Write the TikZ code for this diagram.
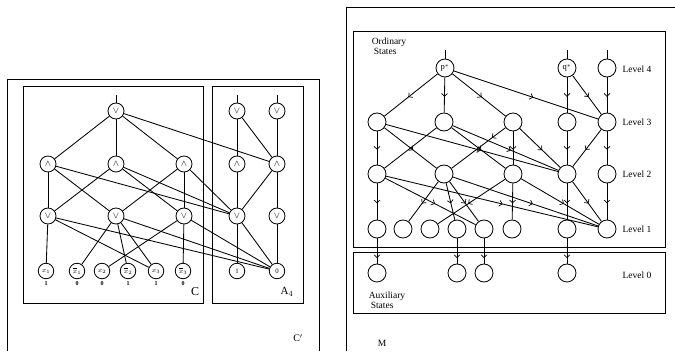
\documentclass[tikz,border=0pt]{standalone}
\usepackage{fontspec}
\setmainfont{Liberation Serif}
\usetikzlibrary{arrows.meta,decorations.markings}
\begin{document}
\begin{tikzpicture}[x=1pt,y=-1pt,
  box/.style={line width=1pt},
  ed/.style={line width=0.85pt},
  g/.style={circle,draw,line width=0.85pt,minimum size=16pt,inner sep=0pt,font=\fontsize{9.5}{9.5}\selectfont},
  leaf/.style={g,minimum size=15.5pt,font=\fontsize{6.8}{7}\selectfont},
  val/.style={inner sep=0pt,font=\fontsize{6}{6}\bfseries\selectfont},
  st/.style={circle,draw,line width=0.85pt,minimum size=18pt,inner sep=0pt,font=\fontsize{8.5}{8.5}\selectfont},
  lbl/.style={inner sep=0pt,font=\fontsize{9.5}{10.5}\selectfont},
  am/.style={ed,postaction={decorate},decoration={markings,mark=at position #1 with {\arrow{Straight Barb[length=2.8pt,width=6pt,line width=0.7pt]}}}},
  am/.default=0.55]
\useasboundingbox (0,0) rectangle (675,351);

% ---------- left figure ----------
\draw[box] (7,351) -- (7,79) -- (319,79) -- (319,351);
\draw[box] (23,86) rectangle (203,303);
\draw[box] (212,86) rectangle (303,303);
\node[inner sep=0pt,font=\fontsize{12}{12}\selectfont] (lC) at (195,292) {C};
\node[inner sep=0pt,font=\fontsize{11}{11}\selectfont] (lA) at (287,292) {A$_4$};
\node[inner sep=0pt,font=\fontsize{10}{10}\selectfont] (lCp) at (298,338) {C$'$};

\node[g] (t) at (116,111) {$\vee$};
\node[g] (a1) at (48,164) {$\wedge$};
\node[g] (a2) at (116,164) {$\wedge$};
\node[g] (a3) at (184,164) {$\wedge$};
\node[g] (o1) at (48,216) {$\vee$};
\node[g] (o2) at (116,216) {$\vee$};
\node[g] (o3) at (184,216) {$\vee$};
\node[leaf] (x1) at (46,271) {$x_1$};
\node[leaf] (nx1) at (77,271) {$\overline{x}_1$};
\node[leaf] (x2) at (102,271) {$x_2$};
\node[leaf] (nx2) at (128,271) {$\overline{x}_2$};
\node[leaf] (x3) at (156,271) {$x_3$};
\node[leaf] (nx3) at (183,271) {$\overline{x}_3$};
\node[val] (v1) at (46,284) {1};
\node[val] (v2) at (77,284) {0};
\node[val] (v3) at (102,284) {0};
\node[val] (v4) at (128,284) {1};
\node[val] (v5) at (156,284) {1};
\node[val] (v6) at (183,284) {0};

\node[g] (bt1) at (237,111) {$\vee$};
\node[g] (bt2) at (277,111) {$\vee$};
\node[g] (ba1) at (237,164) {$\wedge$};
\node[g] (ba2) at (277,164) {$\wedge$};
\node[g] (bo1) at (237,216) {$\vee$};
\node[g] (bo2) at (277,216) {$\vee$};
\node[leaf] (one) at (237,271) {1};
\node[leaf] (zero) at (277,271) {0};

\coordinate (ti) at (116,95);
\coordinate (bti1) at (237,95);
\coordinate (bti2) at (277,95);

\draw[ed] (ti) -- (t);
\draw[ed] (bti1) -- (bt1);
\draw[ed] (bti2) -- (bt2);
\foreach \a/\b in {t/a1,t/a2,t/a3,t/ba2,
  a1/o1,a1/o2,a1/bo1,a2/o1,a2/o3,a2/bo1,a3/o2,a3/o3,a3/bo1,
  o1/x1,o1/x3,o1/zero,o2/nx1,o2/nx2,o2/x3,o2/zero,o3/nx3,o3/x2,o3/zero,
  bt1/ba1,bt1/ba2,bt2/ba2,ba1/bo1,ba2/bo1,ba2/bo2,bo1/one,bo1/zero,bo2/zero}
  \draw[ed] (\a) -- (\b);

% ---------- right figure ----------
\draw[box] (346,351) -- (346,7) -- (675,7);
\draw[box] (353,31) rectangle (665,247);
\draw[box] (353,252) rectangle (665,313);

\node[lbl,align=left] (ord) at (389,46) {Ordinary\\\hspace{2pt}States};
\node[lbl,align=left] (aux) at (387,300) {Auxiliary\\\hspace{2pt}States};
\node[lbl] (l4) at (637,69) {Level 4};
\node[lbl] (l3) at (637,122) {Level 3};
\node[lbl] (l2) at (637,174) {Level 2};
\node[lbl] (l1) at (637,229) {Level 1};
\node[lbl] (l0) at (637,275) {Level 0};
\node[lbl] (mM) at (382,343) {M};

\node[st] (p) at (445,68) {p$^*$};
\node[st] (q) at (567,68) {q$^*$};
\node[st] (r4) at (607,68) {};
\foreach \n/\x in {1/377,2/444,3/513,q/567,r/607}{
  \node[st] (c\n) at (\x,122) {};
  \node[st] (d\n) at (\x,174) {};
}
\foreach \n/\x in {1/377,2/403,3/430,4/457,5/484,6/512,q/567,r/607}
  \node[st] (e\n) at (\x,229) {};
\foreach \n/\x in {1/377,4/457,5/484,q/567}
  \node[st] (f\n) at (\x,273) {};

\coordinate (pi) at (445,50);
\coordinate (qi) at (567,50);
\coordinate (ri) at (607,50);
\draw[ed] (pi) -- (p);
\draw[ed] (qi) -- (q);
\draw[ed] (ri) -- (r4);

\foreach \a/\b in {p/c1,p/c2,p/c3,p/cr,q/cq,q/cr,r4/cr,
  c1/d1,c1/d2,c1/dq,c2/d3,c2/dq,c3/d3,c3/dq,cq/dq,cr/dq,cr/dr,
  d1/e1,d1/e5,d1/er,d2/e2,d2/e4,d2/e5,d2/er,d3/e3,d3/e6,d3/er,
  dq/eq,dq/er,dr/er}
  \draw[am] (\a) -- (\b);
\draw[ed] (c2) -- (d1);
\draw[am=0.25] (c3) -- (d2);
\foreach \a/\b in {e1/f1,e4/f4,e5/f5,eq/fq}
  \draw[am=0.78] (\a) -- (\b);
\end{tikzpicture}
\end{document}
